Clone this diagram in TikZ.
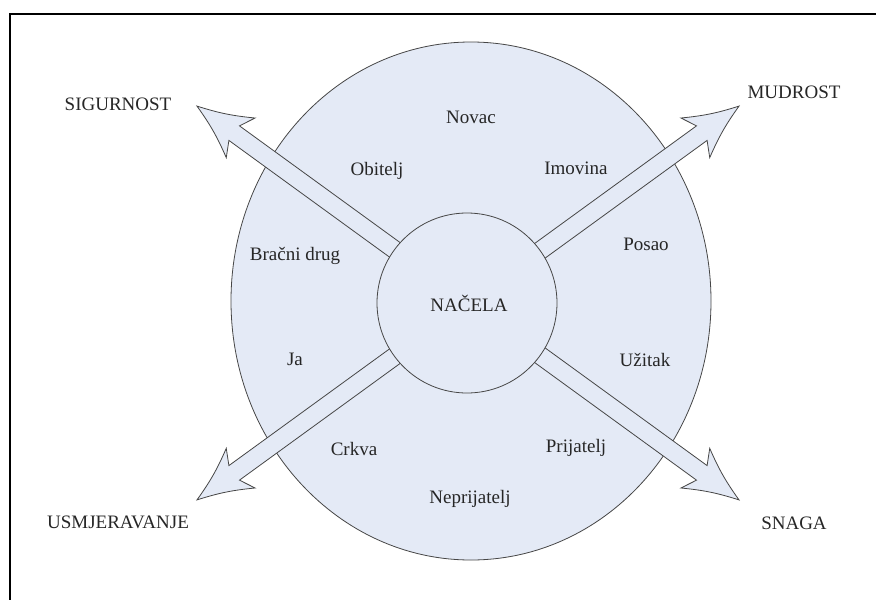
\documentclass[tikz,border=0pt]{standalone}
\usepackage{fontspec}
\usetikzlibrary{shapes.geometric}
\setmainfont{Liberation Serif}
\definecolor{fillblue}{RGB}{228,234,246}
\definecolor{edge}{RGB}{70,70,70}
\begin{document}
\begin{tikzpicture}[x=1pt,y=-1pt,
  lbl/.style={anchor=base,inner sep=0pt,font=\fontsize{19}{22}\selectfont,text=black!85},
  shapeline/.style={draw=edge,fill=fillblue,line width=0.8pt},
  blockarrow/.style={draw=edge,fill=fillblue,line width=0.8pt,line join=miter}]
\useasboundingbox (0,0) rectangle (876,600);
% frame
\draw[line width=2pt,line cap=rect] (9.5,600) -- (9.5,13.5) -- (876,13.5);
% big ellipse
\node[shapeline,ellipse,minimum width=480,minimum height=518,inner sep=0pt] (outer) at (471,301) {};
% arrows
\foreach \ang/\nm in {36/ne,144/nw,216/sw,324/se}{
  \begin{scope}[shift={(468,303)},rotate=\ang,y={(0pt,1pt)}]
    \draw[blockarrow] (0,9) -- (289,9) -- (281,24.5) to[bend right=6] (335,0)
      to[bend right=6] (281,-24.5) -- (289,-9) -- (0,-9) -- cycle;
    \coordinate (tip\nm) at (335,0);
  \end{scope}
}
% inner circle
\node[shapeline,circle,minimum size=180,inner sep=0pt] (inner) at (467,303) {};
% labels
\node[lbl] (nacela) at (469,311) {NAČELA};
\node[lbl] (novac) at (471,123) {Novac};
\node[lbl] (obitelj) at (377,175) {Obitelj};
\node[lbl] (imovina) at (576,174) {Imovina};
\node[lbl] (bracni) at (295,260) {Bračni drug};
\node[lbl] (posao) at (646,250) {Posao};
\node[lbl] (ja) at (295,365) {Ja};
\node[lbl] (uzitak) at (645,366) {Užitak};
\node[lbl] (crkva) at (354,455) {Crkva};
\node[lbl] (prijatelj) at (576,452) {Prijatelj};
\node[lbl] (neprijatelj) at (470,503) {Neprijatelj};
\node[lbl] (sigurnost) at (118,110) {SIGURNOST};
\node[lbl] (mudrost) at (794,98) {MUDROST};
\node[lbl] (usmjer) at (118,528) {USMJERAVANJE};
\node[lbl] (snaga) at (794,529) {SNAGA};
\end{tikzpicture}
\end{document}
